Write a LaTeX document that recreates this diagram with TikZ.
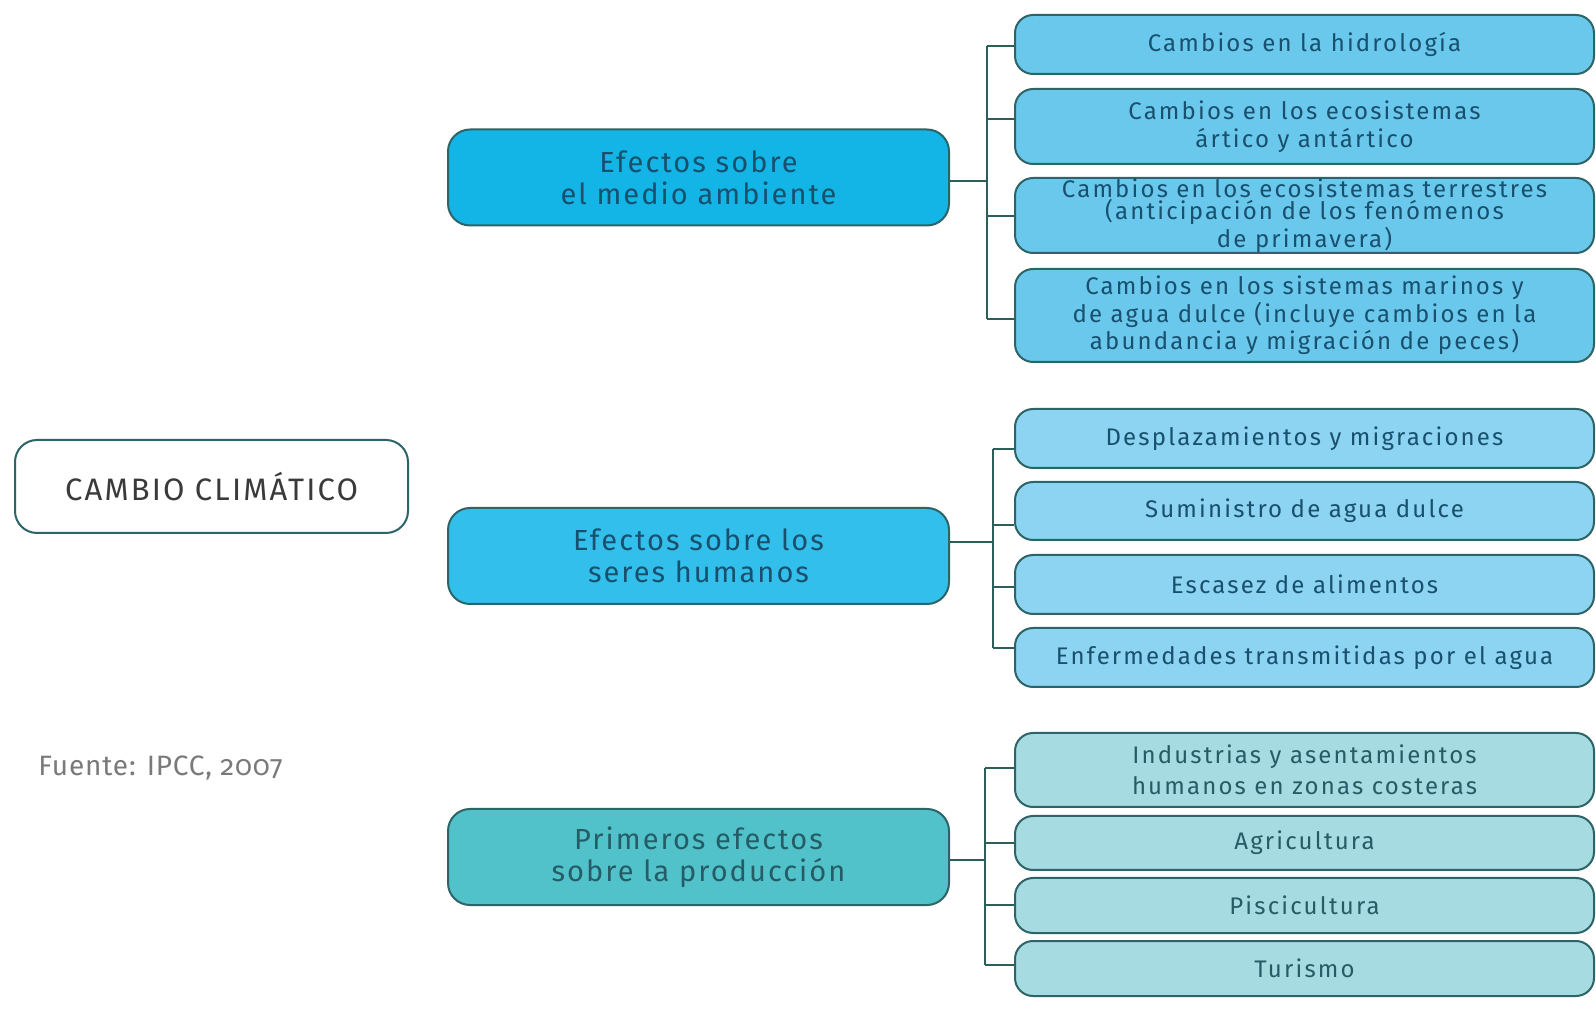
\documentclass[tikz,border=0pt]{standalone}
\usepackage{fontspec}
\setmainfont{Fira Sans}
\newfontfamily\boxfont{Fira Sans}[LetterSpace=9]
\newfontfamily\mainboxfont{Fira Sans}[LetterSpace=7]
\newfontfamily\capfont{Fira Sans}[LetterSpace=7]
\newfontfamily\srcfont{Fira Sans}[Numbers=OldStyle,LetterSpace=3]
\definecolor{bord}{HTML}{2C6468}
\definecolor{connc}{HTML}{2C5F5A}
\definecolor{txtc}{HTML}{18506E}
\definecolor{mA}{HTML}{12B5E6}
\definecolor{mB}{HTML}{33BFEB}
\definecolor{mC}{HTML}{52C2CA}
\definecolor{fA}{HTML}{6AC8EC}
\definecolor{fB}{HTML}{8CD4F1}
\definecolor{fC}{HTML}{A6DCE1}
\definecolor{txtp}{HTML}{255C66}
\definecolor{capc}{HTML}{3A3A3A}
\definecolor{srcc}{HTML}{7A7A7A}
\tikzset{
  basebox/.style={rectangle, draw=bord, line width=1pt, inner sep=0pt, align=center},
  rootbox/.style={basebox, fill=white, rounded corners=11pt, minimum width=196.5pt, minimum height=46.5pt,
    text=capc, font=\capfont\fontsize{15.5}{18}\selectfont},
  mainbox/.style={basebox, rounded corners=11pt, minimum width=250.5pt, minimum height=48pt,
    text=txtc, font=\mainboxfont\fontsize{14.5}{16}\selectfont},
  leafbox/.style={basebox, rounded corners=9pt, minimum width=289.5pt,
    text=txtc, font=\boxfont\fontsize{12}{11.2}\selectfont},
  conn/.style={draw=connc, line width=1pt},
}
\begin{document}
\begin{tikzpicture}[x=0.5pt,y=-0.5pt]
\useasboundingbox (0,0) rectangle (1596,1020);
\fill[white] (0,0) rectangle (1596,1020);

% root and source
\node[rootbox] (root) at (211.5,486.5) {CAMBIO CLIMÁTICO};
\node[anchor=west, inner sep=0pt, text=srcc, font=\srcfont\fontsize{14}{16}\selectfont] (src) at (38,768) {Fuente: IPCC, 2007};

% main boxes
\node[mainbox, fill=mA] (m1) at (698.5,177.5) {Efectos sobre\\el medio ambiente};
\node[mainbox, fill=mB] (m2) at (698.5,556) {Efectos sobre los\\seres humanos};
\node[mainbox, fill=mC, text=txtp] (m3) at (698.5,857) {Primeros efectos\\sobre la producción};

% group 1
\node[leafbox, fill=fA, minimum height=29.5pt] (a1) at (1304.5,44.5) {Cambios en la hidrología};
\node[leafbox, fill=fA, minimum height=37.5pt] (a2) at (1304.5,126.5) {Cambios en los ecosistemas\\[2.6pt]ártico y antártico};
\node[leafbox, fill=fA, minimum height=37.5pt] (a3) at (1304.5,215.5) {Cambios en los ecosistemas terrestres\\(anticipación de los fenómenos\\de primavera)};
\node[leafbox, fill=fA, minimum height=46.5pt] (a4) at (1304.5,315.5) {Cambios en los sistemas marinos y\\de agua dulce (incluye cambios en la\\abundancia y migración de peces)};

% group 2
\node[leafbox, fill=fB, minimum height=29.5pt] (h1) at (1304.5,438.5) {Desplazamientos y migraciones};
\node[leafbox, fill=fB, minimum height=29pt] (h2) at (1304.5,511) {Suministro de agua dulce};
\node[leafbox, fill=fB, minimum height=29.5pt] (h3) at (1304.5,584.5) {Escasez de alimentos};
\node[leafbox, fill=fB, minimum height=29.5pt] (h4) at (1304.5,657.5) {Enfermedades transmitidas por el agua};

% group 3
\node[leafbox, fill=fC, text=txtp, minimum height=37pt] (p1) at (1304.5,770) {Industrias y asentamientos\\[3pt]humanos en zonas costeras};
\node[leafbox, fill=fC, text=txtp, minimum height=27pt] (p2) at (1304.5,843) {Agricultura};
\node[leafbox, fill=fC, text=txtp, minimum height=27.5pt] (p3) at (1304.5,905.5) {Piscicultura};
\node[leafbox, fill=fC, text=txtp, minimum height=27.5pt] (p4) at (1304.5,968.5) {Turismo};

% bracket coordinates
\coordinate (g1m) at (987,181);
\coordinate (g1a) at (987,46);
\coordinate (g1b) at (987,119);
\coordinate (g1c) at (987,216);
\coordinate (g1d) at (987,319);

\coordinate (g2m) at (993,542);
\coordinate (g2a) at (993,449);
\coordinate (g2b) at (993,525);
\coordinate (g2c) at (993,587);
\coordinate (g2d) at (993,648);

\coordinate (g3m) at (985,860);
\coordinate (g3a) at (985,768);
\coordinate (g3b) at (985,843);
\coordinate (g3c) at (985,905);
\coordinate (g3d) at (985,965);

% connectors group 1
\draw[conn] (m1.east |- g1m) -- (g1m);
\draw[conn] (g1a) -- (g1d);
\draw[conn] (g1a) -- (a1.west |- g1a);
\draw[conn] (g1b) -- (a2.west |- g1b);
\draw[conn] (g1c) -- (a3.west |- g1c);
\draw[conn] (g1d) -- (a4.west |- g1d);

% connectors group 2
\draw[conn] (m2.east |- g2m) -- (g2m);
\draw[conn] (g2a) -- (g2d);
\draw[conn] (g2a) -- (h1.west |- g2a);
\draw[conn] (g2b) -- (h2.west |- g2b);
\draw[conn] (g2c) -- (h3.west |- g2c);
\draw[conn] (g2d) -- (h4.west |- g2d);

% connectors group 3
\draw[conn] (m3.east |- g3m) -- (g3m);
\draw[conn] (g3a) -- (g3d);
\draw[conn] (g3a) -- (p1.west |- g3a);
\draw[conn] (g3b) -- (p2.west |- g3b);
\draw[conn] (g3c) -- (p3.west |- g3c);
\draw[conn] (g3d) -- (p4.west |- g3d);
\end{tikzpicture}
\end{document}
